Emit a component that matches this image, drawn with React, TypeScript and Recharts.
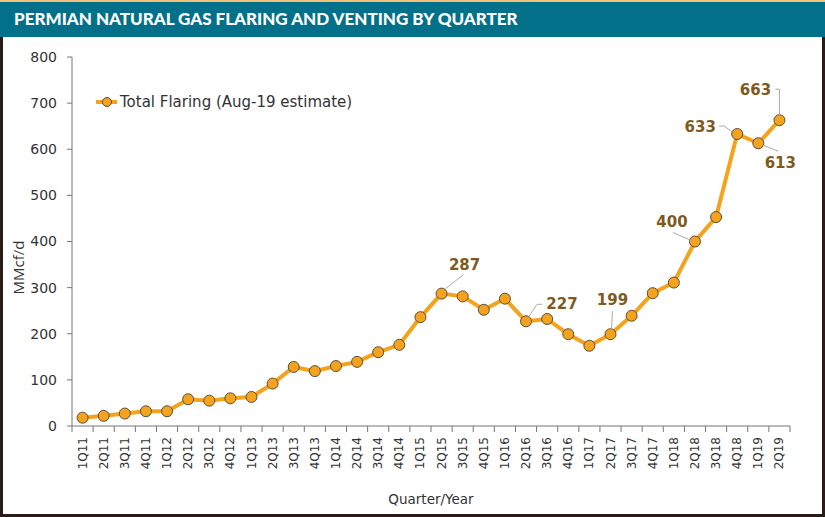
import React from 'react';
import { LineChart, Line, XAxis, YAxis, LabelList } from 'recharts';

const quarters = [
  '1Q11', '2Q11', '3Q11', '4Q11', '1Q12', '2Q12', '3Q12', '4Q12',
  '1Q13', '2Q13', '3Q13', '4Q13', '1Q14', '2Q14', '3Q14', '4Q14',
  '1Q15', '2Q15', '3Q15', '4Q15', '1Q16', '2Q16', '3Q16', '4Q16',
  '1Q17', '2Q17', '3Q17', '4Q17', '1Q18', '2Q18', '3Q18', '4Q18',
  '1Q19', '2Q19',
];

const flaring = [
  18, 22, 27, 32, 32, 58, 55, 60,
  63, 92, 128, 119, 130, 139, 160, 176,
  236, 287, 281, 252, 276, 227, 232, 199,
  174, 199, 239, 288, 311, 400, 453, 633,
  613, 663,
];

const yTicks = [0, 100, 200, 300, 400, 500, 600, 700, 800];

const labelledQuarters = ['2Q15', '2Q16', '2Q17', '2Q18', '4Q18', '1Q19', '2Q19'];

// styling: label offsets relative to the point (text centre, leader polyline)
const labelStyle: Record<string, { dx: number; dy: number; leader: number[][] }> = {
  '2Q15': { dx: 23, dy: -29, leader: [[4, -5], [22, -19]] },
  '2Q16': { dx: 36, dy: -17, leader: [[3, -5], [11, -17], [16, -17]] },
  '2Q17': { dx: 2, dy: -34, leader: [[1, -5], [2, -23]] },
  '2Q18': { dx: -23, dy: -20, leader: [[-4, -1], [-22, -9]] },
  '4Q18': { dx: -37, dy: -7, leader: [[-5, -2], [-13, -8], [-18, -8]] },
  '1Q19': { dx: 22, dy: 20, leader: [[5, 2], [20, 8]] },
  '2Q19': { dx: -24, dy: -30, leader: [[0, -5], [0, -31], [-4, -31]] },
};

const data = quarters.map((q, i) => ({ quarter: q, value: flaring[i] }));

const W = 825;
const H = 517;
const M = { top: 57, right: 35, bottom: 31, left: 10 };
const Y_AXIS_W = 62;
const X_AXIS_H = 60;
const PLOT_W = W - M.left - M.right - Y_AXIS_W;
const HALF_BAND = PLOT_W / quarters.length / 2;

const LINE_COLOR = '#f5a31c';
const DOT_STROKE = '#5b4f3c';
const LABEL_COLOR = '#7e5a20';
const AXIS_COLOR = '#777';
const TEXT_COLOR = '#333';
const FONT = '"DejaVu Sans", Verdana, sans-serif';

const XTick = (props: any) => {
  const { x, y, payload, index } = props;
  const last = index === quarters.length - 1;
  return (
    <g>
      <line x1={x - HALF_BAND} x2={x - HALF_BAND} y1={y} y2={y + 6} stroke={AXIS_COLOR} />
      {last && <line x1={x + HALF_BAND} x2={x + HALF_BAND} y1={y} y2={y + 6} stroke={AXIS_COLOR} />}
      <text
        x={x}
        y={y + 11}
        transform={`rotate(-90, ${x}, ${y + 11})`}
        textAnchor="end"
        dominantBaseline="central"
        fontSize={12}
        fontFamily={FONT}
        fill={TEXT_COLOR}
      >
        {payload.value}
      </text>
    </g>
  );
};

const PointLabel = (props: any) => {
  const { x, y, value, index } = props;
  const q = quarters[index];
  if (!labelledQuarters.includes(q)) return null;
  const s = labelStyle[q];
  const pts = s.leader.map(([dx, dy]) => `${x + dx},${y + dy}`).join(' ');
  return (
    <g>
      <polyline points={pts} fill="none" stroke="#a9a9a9" strokeWidth={1} />
      <text
        x={x + s.dx}
        y={y + s.dy}
        textAnchor="middle"
        dominantBaseline="central"
        fontSize={15}
        fontWeight="bold"
        fontFamily={FONT}
        fill={LABEL_COLOR}
      >
        {value}
      </text>
    </g>
  );
};

export default function App() {
  return (
    <div style={{ position: 'absolute', left: 0, top: 0, width: W, height: H, background: '#fff', overflow: 'hidden' }}>
      <div
        style={{
          position: 'absolute', left: 0, top: 0, width: W, height: 37, boxSizing: 'border-box',
          background: '#03708a', borderTop: '2px solid #f3c07c', color: '#fff',
          fontFamily: 'Lato, "Open Sans", sans-serif', fontWeight: 900, fontSize: 17,
          lineHeight: '34px', paddingLeft: 14, letterSpacing: 0, whiteSpace: 'nowrap',
        }}
      >
        PERMIAN NATURAL GAS FLARING AND VENTING BY QUARTER
      </div>
      <div style={{ position: 'absolute', left: 0, top: 0 }}>
        <LineChart width={W} height={H} data={data} margin={M}>
          <XAxis
            dataKey="quarter"
            padding={{ left: HALF_BAND, right: HALF_BAND }}
            interval={0}
            height={X_AXIS_H}
            tickLine={false}
            tickSize={0}
            tickMargin={0}
            tick={<XTick />}
            axisLine={{ stroke: AXIS_COLOR }}
            label={{ value: 'Quarter/Year', position: 'insideBottom', offset: -18, fontSize: 13.5, fontFamily: FONT, fill: TEXT_COLOR }}
          />
          <YAxis
            domain={[0, 800]}
            ticks={yTicks}
            width={Y_AXIS_W}
            tickSize={5}
            tickMargin={10}
            tick={{ fontSize: 14, fontFamily: FONT, fill: TEXT_COLOR }}
            axisLine={{ stroke: AXIS_COLOR }}
            tickLine={{ stroke: AXIS_COLOR }}
            label={(p: any) => {
              const vb = p.viewBox || {};
              const cx = (vb.x ?? 10) + 8;
              const cy = (vb.y ?? 57) + (vb.height ?? 369) / 2 + 26;
              return (
                <text
                  x={cx}
                  y={cy}
                  transform={`rotate(-90, ${cx}, ${cy})`}
                  textAnchor="middle"
                  dominantBaseline="central"
                  fontSize={15}
                  fontFamily='"Open Sans", sans-serif'
                  fill={TEXT_COLOR}
                >
                  MMcf/d
                </text>
              );
            }}
          />
          <Line
            type="linear"
            dataKey="value"
            stroke={LINE_COLOR}
            strokeWidth={4}
            dot={{ r: 5.5, fill: LINE_COLOR, stroke: DOT_STROKE, strokeWidth: 1 }}
            isAnimationActive={false}
          >
            <LabelList dataKey="value" content={<PointLabel />} />
          </Line>
        </LineChart>
      </div>
      <div style={{ position: 'absolute', left: 94, top: 92, display: 'flex', alignItems: 'center', height: 20 }}>
        <svg width={24} height={20}>
          <line x1={2} x2={23} y1={10} y2={10} stroke={LINE_COLOR} strokeWidth={4} />
          <circle cx={13} cy={10} r={4.5} fill={LINE_COLOR} stroke={DOT_STROKE} strokeWidth={1} />
        </svg>
        <span style={{ fontFamily: FONT, fontSize: 15, color: TEXT_COLOR, marginLeft: 2 }}>
          Total Flaring (Aug-19 estimate)
        </span>
      </div>
      <div
        style={{
          position: 'absolute', left: 0, top: 37, width: W, height: H - 37, boxSizing: 'border-box',
          borderLeft: '3px solid #2a1c12', borderRight: '3px solid #2a1c12', borderBottom: '3px solid #2a1c12',
          pointerEvents: 'none',
        }}
      />
    </div>
  );
}
